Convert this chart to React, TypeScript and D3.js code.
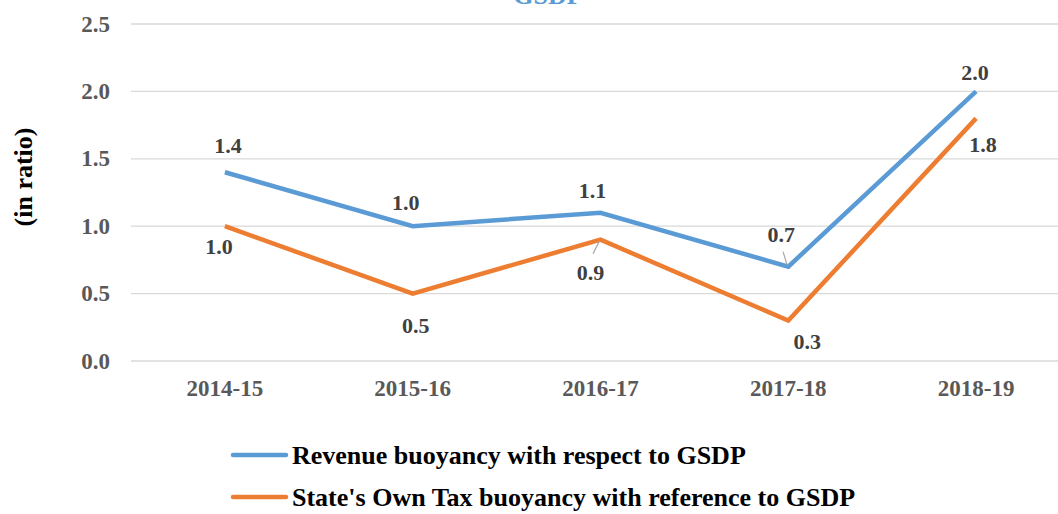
import { useRef, useEffect } from 'react';
import * as d3 from 'd3';

const categories = ['2014-15', '2015-16', '2016-17', '2017-18', '2018-19'];
const revenue = [1.4, 1.0, 1.1, 0.7, 2.0];
const ownTax = [1.0, 0.5, 0.9, 0.3, 1.8];
const yTicks = [0, 0.5, 1.0, 1.5, 2.0, 2.5];
const seriesNames = [
  'Revenue buoyancy with respect to GSDP',
  "State's Own Tax buoyancy with reference to GSDP",
];

// label offsets from the point, in px (as placed in the original)
const revLabelOff: [number, number][] = [[3, -27], [-7, -23], [-8, -22], [-7, -32], [-1, -19]];
const taxLabelOff: [number, number][] = [[-6, 21], [3, 32], [-10, 33], [19, 21], [7, 26]];
// which labels got a leader line: [series, index]
const leaders: [number, number][] = [[0, 3], [1, 2]];

export default function App() {
  const ref = useRef<SVGSVGElement>(null);

  useEffect(() => {
    const svg = d3.select(ref.current);
    svg.selectAll('*').remove();
    const W = 1058, H = 514;
    const font = 'Liberation Serif';

    const x = d3.scaleBand<string>().domain(categories).range([131, 1070]);
    const y = d3.scaleLinear().domain([0, 2.5]).range([361, 24]);
    const cx = (c: string) => (x(c) ?? 0) + x.bandwidth() / 2;

    svg.attr('width', W).attr('height', H);

    svg.append('text').attr('x', 548).attr('y', 3.5).attr('text-anchor', 'middle').attr('font-family', font)
      .attr('fill', '#5B9BD5').attr('font-weight', 'bold').attr('font-size', 26).text('GSDP');

    // grid
    svg.append('g').selectAll('line').data(yTicks).join('line')
      .attr('x1', 131).attr('x2', W).attr('y1', d => y(d)).attr('y2', d => y(d))
      .attr('stroke', '#d9d9d9').attr('stroke-width', 1.3);

    svg.append('g').selectAll('text').data(yTicks).join('text')
      .attr('x', 110).attr('y', d => y(d)).attr('dy', '0.33em').attr('text-anchor', 'end')
      .attr('font-family', font)
      .attr('fill', '#595959').attr('font-weight', 'bold').attr('font-size', 23)
      .text(d => d3.format('.1f')(d));

    svg.append('g').selectAll('text').data(categories).join('text')
      .attr('x', d => cx(d)).attr('y', 396).attr('text-anchor', 'middle').attr('font-family', font)
      .attr('fill', '#595959').attr('font-weight', 'bold').attr('font-size', 23)
      .text(d => d);

    svg.append('text').attr('transform', 'translate(32,177) rotate(-90)').attr('font-family', font)
      .attr('text-anchor', 'middle').attr('fill', '#000').attr('font-weight', 'bold')
      .attr('font-size', 26).text('(in ratio)');

    const line = d3.line<number>().x((_, i) => cx(categories[i])).y(d => y(d));
    const sets = [
      { vals: revenue, color: '#5B9BD5', off: revLabelOff },
      { vals: ownTax, color: '#ED7D31', off: taxLabelOff },
    ];
    sets.forEach(s => {
      svg.append('path').datum(s.vals).attr('fill', 'none').attr('stroke', s.color)
        .attr('stroke-width', 4.5).attr('stroke-linejoin', 'miter').attr('d', line);
    });

    // leader lines from label to point
    leaders.forEach(([si, i]) => {
      const s = sets[si];
      const px = cx(categories[i]), py = y(s.vals[i]);
      const up = s.off[i][1] < 0;
      svg.append('line')
        .attr('x1', px - 1).attr('y1', py + (up ? -1 : 1))
        .attr('x2', px + s.off[i][0] * 0.75).attr('y2', py + (up ? -15 : 14))
        .attr('stroke', '#a6a6a6').attr('stroke-width', 1.2);
    });

    sets.forEach(s => {
      svg.append('g').selectAll('text').data(s.vals).join('text')
        .attr('x', (d, i) => cx(categories[i]) + s.off[i][0])
        .attr('y', (d, i) => y(d) + s.off[i][1])
        .attr('dy', '0.33em').attr('text-anchor', 'middle').attr('font-family', font)
        .attr('fill', '#404040').attr('font-weight', 'bold').attr('font-size', 22)
        .text(d => d3.format('.1f')(d));
    });

    // legend
    const lg = svg.append('g');
    seriesNames.forEach((n, i) => {
      const ly2 = 455 + i * 42;
      lg.append('line').attr('x1', 233).attr('x2', 286).attr('y1', ly2).attr('y2', ly2)
        .attr('stroke', sets[i].color).attr('stroke-width', 4.5).attr('stroke-linecap', 'round');
      lg.append('text').attr('x', 292).attr('y', ly2).attr('dy', '0.33em').attr('font-family', font)
        .attr('fill', '#000').attr('font-weight', 'bold').attr('font-size', 26).text(n);
    });
  }, []);

  return (
    <svg ref={ref} style={{ position: 'absolute', left: 0, top: 0, background: '#fff' }} />
  );
}
